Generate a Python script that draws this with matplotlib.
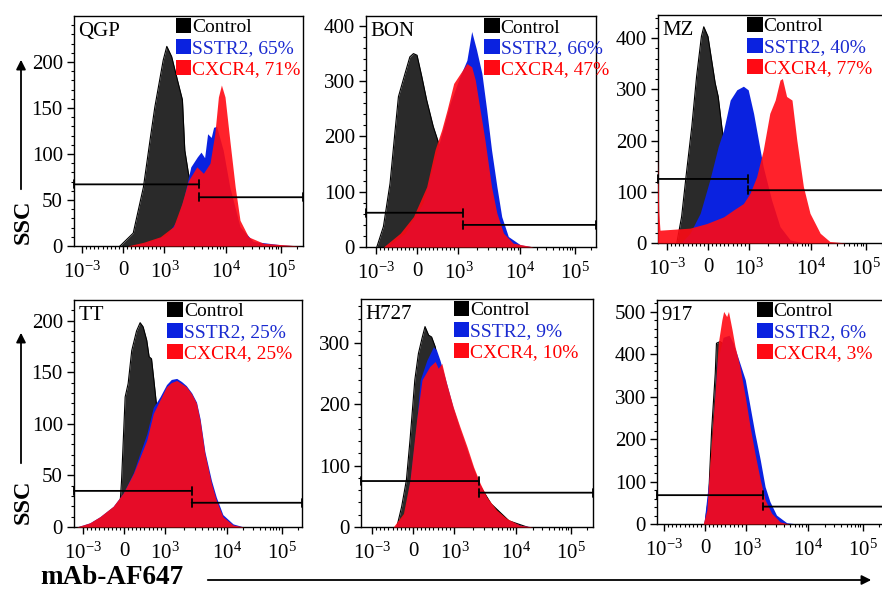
import numpy as np
import matplotlib
matplotlib.use("Agg")
import matplotlib.pyplot as plt
from matplotlib.patches import Patch, FancyArrowPatch

plt.rcParams["font.family"] = "Liberation Serif"
plt.rcParams["mathtext.fontset"] = "custom"
plt.rcParams["mathtext.rm"] = "Liberation Serif"

# ---- data (x in display units, y = counts) ----
names = ["QGP", "BON", "MZ", "TT", "H727", "917"]
sstr2_pct = [65, 66, 40, 25, 9, 6]
cxcr4_pct = [71, 47, 77, 25, 10, 3]

xtick_pos = [-0.69, 0, 0.69, 1.72, 2.63]
xtick_lab = [r"$\mathregular{10^{-3}}$", "0", r"$\mathregular{10^{3}}$",
             r"$\mathregular{10^{4}}$", r"$\mathregular{10^{5}}$"]

qgp_ctrl_x = [-0.05, 0.17, 0.34, 0.45, 0.53, 0.67, 0.73, 0.81, 0.92, 0.99, 1.03, 1.09, 1.23, 1.39, 1.73, 2.06]
qgp_ctrl_y = [0, 14, 64, 115, 151, 202, 217, 206, 177, 159, 104, 79, 43, 21, 6, 0]
qgp_sstr2_x = [0.17, 0.45, 0.73, 0.9, 1.02, 1.13, 1.24, 1.3, 1.36, 1.41, 1.47, 1.51, 1.56, 1.67, 1.78, 1.95, 2.17, 2.67, 2.98]
qgp_sstr2_y = [0, 5, 12, 28, 54, 86, 97, 102, 96, 122, 118, 129, 130, 104, 64, 21, 5, 1, 0]
qgp_cxcr4_x = [0.07, 0.34, 0.62, 0.84, 0.98, 1.09, 1.23, 1.34, 1.45, 1.53, 1.59, 1.64, 1.7, 1.78, 1.87, 1.95, 2.09, 2.34, 2.95]
qgp_cxcr4_y = [0, 4, 10, 21, 46, 71, 86, 79, 90, 122, 162, 175, 162, 115, 64, 28, 10, 3, 0]

bon_ctrl_x = [-0.67, -0.56, -0.45, -0.37, -0.31, -0.2, -0.12, -0.06, 0.0, 0.08, 0.16, 0.27, 0.36, 0.55, 0.77, 0.99, 1.27, 1.5]
bon_ctrl_y = [0, 37, 115, 206, 272, 314, 344, 350, 347, 308, 266, 218, 188, 115, 67, 31, 7, 0]
bon_sstr2_x = [-0.5, -0.2, 0.1, 0.3, 0.55, 0.72, 0.83, 0.91, 0.99, 1.08, 1.16, 1.24, 1.33, 1.41, 1.52, 1.72, 1.94]
bon_sstr2_y = [0, 25, 80, 160, 260, 310, 338, 390, 357, 314, 248, 176, 109, 55, 19, 4, 0]
bon_cxcr4_x = [-0.56, -0.28, -0.06, 0.16, 0.3, 0.41, 0.5, 0.61, 0.72, 0.83, 0.91, 0.97, 1.05, 1.13, 1.24, 1.33, 1.44, 1.6, 1.94]
bon_cxcr4_y = [0, 25, 55, 109, 176, 212, 248, 296, 314, 332, 326, 302, 248, 194, 109, 61, 25, 7, 0]

mz_ctrl_x = [-0.52, -0.44, -0.36, -0.27, -0.19, -0.11, -0.07, 0.0, 0.12, 0.17, 0.23, 0.37, 0.53, 0.81, 1.14, 1.3]
mz_ctrl_y = [0, 51, 136, 227, 325, 403, 422, 403, 312, 286, 227, 116, 51, 19, 3, 0]
mz_sstr2_x = [-0.45, -0.3, -0.13, 0.03, 0.17, 0.26, 0.37, 0.48, 0.59, 0.67, 0.76, 0.84, 0.92, 1.06, 1.2, 1.37, 1.6]
mz_sstr2_y = [0, 19, 58, 123, 188, 220, 279, 299, 306, 299, 253, 201, 149, 84, 32, 6, 0]
mz_cxcr4_x = [-0.84, -0.82, -0.8, -0.3, -0.02, 0.26, 0.42, 0.59, 0.7, 0.81, 0.92, 1.03, 1.12, 1.2, 1.24, 1.31, 1.4, 1.48, 1.59, 1.7, 1.87, 2.03, 2.3]
mz_cxcr4_y = [168, 60, 25, 29, 38, 51, 64, 77, 97, 129, 181, 253, 279, 318, 321, 286, 279, 201, 110, 58, 19, 3, 0]

tt_ctrl_x = [-0.09, -0.04, 0.02, 0.07, 0.13, 0.21, 0.27, 0.32, 0.38, 0.42, 0.46, 0.5, 0.54, 0.66, 0.82, 1.04, 1.27, 1.45]
tt_ctrl_y = [0, 45, 126, 139, 171, 190, 198, 194, 181, 165, 163, 142, 120, 78, 45, 20, 5, 0]
tt_sstr2_x = [-0.79, -0.57, -0.4, -0.18, -0.01, 0.16, 0.27, 0.38, 0.49, 0.6, 0.71, 0.79, 0.88, 0.96, 1.04, 1.13, 1.21, 1.27, 1.35, 1.46, 1.54, 1.65, 1.82, 2.0]
tt_sstr2_y = [0, 4, 10, 20, 33, 53, 72, 90, 116, 126, 138, 143, 144, 141, 137, 130, 121, 105, 73, 45, 29, 12, 3, 0]
tt_cxcr4_x = [-0.79, -0.57, -0.4, -0.18, -0.01, 0.16, 0.27, 0.38, 0.49, 0.6, 0.71, 0.79, 0.88, 0.96, 1.04, 1.13, 1.21, 1.27, 1.35, 1.46, 1.54, 1.65, 1.82, 2.0]
tt_cxcr4_y = [0, 4, 10, 20, 33, 52, 68, 84, 110, 123, 136, 140, 142, 139, 136, 129, 120, 103, 71, 42, 26, 10, 2, 0]

h727_ctrl_x = [-0.27, -0.19, -0.11, -0.05, 0.03, 0.09, 0.15, 0.2, 0.26, 0.31, 0.37, 0.5, 0.7, 0.9, 1.1, 1.3, 1.6, 1.9]
h727_ctrl_y = [0, 33, 77, 142, 240, 283, 308, 327, 313, 310, 294, 230, 175, 120, 70, 38, 10, 0]
h727_sstr2_x = [-0.3, -0.15, -0.05, 0.06, 0.12, 0.23, 0.34, 0.39, 0.45, 0.56, 0.67, 0.78, 0.9, 1.01, 1.12, 1.23, 1.39, 1.56, 1.78, 2.0]
h727_sstr2_y = [0, 20, 75, 170, 240, 272, 294, 289, 272, 234, 194, 160, 126, 94, 68, 46, 26, 12, 3, 0]
h727_cxcr4_x = [-0.33, -0.16, -0.05, 0.06, 0.15, 0.28, 0.37, 0.42, 0.48, 0.56, 0.67, 0.78, 0.9, 1.01, 1.12, 1.23, 1.39, 1.56, 1.78, 2.0]
h727_cxcr4_y = [0, 22, 77, 175, 240, 262, 270, 259, 267, 234, 196, 164, 131, 98, 71, 49, 28, 14, 3, 0]

n917_ctrl_x = [0.0, 0.06, 0.11, 0.17, 0.19, 0.25, 0.35, 0.5, 0.7, 0.9, 1.1, 1.3]
n917_ctrl_y = [0, 64, 222, 355, 426, 430, 420, 380, 270, 110, 20, 0]
n917_sstr2_x = [-0.02, 0.1, 0.2, 0.3, 0.4, 0.47, 0.58, 0.67, 0.75, 0.83, 0.92, 1.0, 1.08, 1.19, 1.36, 1.55]
n917_sstr2_y = [0, 150, 380, 440, 445, 426, 379, 340, 277, 214, 151, 88, 53, 21, 3, 0]
n917_cxcr4_x = [-0.03, 0.03, 0.08, 0.17, 0.22, 0.28, 0.31, 0.36, 0.39, 0.45, 0.5, 0.58, 0.67, 0.75, 0.83, 0.92, 1.0, 1.11, 1.25, 1.4]
n917_cxcr4_y = [0, 33, 143, 316, 426, 481, 501, 489, 501, 458, 418, 371, 300, 229, 167, 104, 57, 25, 5, 0]

# gates: left bar height, split position, right bar height
gate_left_y = [67, 62, 125, 35, 75, 68]
gate_split_x = [1.27, 0.76, 0.66, 1.13, 1.1, 0.97]
gate_right_y = [53, 40, 103, 23.5, 56, 41]

curves = [
    (qgp_ctrl_x, qgp_ctrl_y, qgp_sstr2_x, qgp_sstr2_y, qgp_cxcr4_x, qgp_cxcr4_y),
    (bon_ctrl_x, bon_ctrl_y, bon_sstr2_x, bon_sstr2_y, bon_cxcr4_x, bon_cxcr4_y),
    (mz_ctrl_x, mz_ctrl_y, mz_sstr2_x, mz_sstr2_y, mz_cxcr4_x, mz_cxcr4_y),
    (tt_ctrl_x, tt_ctrl_y, tt_sstr2_x, tt_sstr2_y, tt_cxcr4_x, tt_cxcr4_y),
    (h727_ctrl_x, h727_ctrl_y, h727_sstr2_x, h727_sstr2_y, h727_cxcr4_x, h727_cxcr4_y),
    (n917_ctrl_x, n917_ctrl_y, n917_sstr2_x, n917_sstr2_y, n917_cxcr4_x, n917_cxcr4_y),
]

# ---- layout (pixels) ----
W, H = 882, 590
boxes = [(74, 16, 303, 246), (366, 16, 596, 247), (658, 15, 888, 243),
         (74, 300, 302, 527), (361, 299, 593, 527), (657, 300, 887, 524)]
xlims = [(-0.817, 3.0), (-0.85, 2.98), (-0.833, 3.0),
         (-0.833, 2.97), (-0.867, 3.0), (-0.8, 3.03)]
ytops = [250, 418, 445, 220, 372, 528]
ysteps = [50, 100, 100, 50, 100, 100]
ymaxtick = [200, 400, 400, 200, 300, 500]
legend_x = [0.445, 0.513, 0.387, 0.41, 0.40, 0.435]

c_black = "#2a2a2a"
c_blue = "#0a22e0"
c_red = "#ff0a14"

# minor ticks on the x axis
minor = list(np.linspace(-0.62, -0.06, 9)) + list(np.linspace(0.06, 0.62, 9))
for a, b in [(0.69, 1.72), (1.72, 2.63), (2.63, 3.54)]:
    minor += [a + np.log10(k) * (b - a) for k in range(2, 10)]

fig = plt.figure(figsize=(W / 100, H / 100), dpi=100)

for i, name in enumerate(names):
    l, t, r, b = boxes[i]
    ax = fig.add_axes([l / W, 1 - b / H, (r - l) / W, (b - t) / H])
    cx, cy, sx, sy, rx, ry = curves[i]
    ax.fill_between(cx, cy, 0, color=c_black, lw=0, zorder=1)
    ax.plot(cx, cy, color="black", lw=0.8, zorder=1)
    ax.fill_between(sx, sy, 0, color=c_blue, lw=0, zorder=2)
    ax.fill_between(rx, ry, 0, color=c_red, alpha=0.9, lw=0, zorder=3)

    x0, x1 = xlims[i]
    ax.set_xlim(x0, x1)
    ax.set_ylim(0, ytops[i])
    gs = "|-|,widthA=0.28,widthB=0.28"
    ax.annotate("", xy=(gate_split_x[i], gate_left_y[i]), xytext=(x0, gate_left_y[i]),
                arrowprops=dict(arrowstyle=gs, lw=1.3, color="black", shrinkA=0, shrinkB=0),
                zorder=5)
    ax.annotate("", xy=(x1, gate_right_y[i]), xytext=(gate_split_x[i], gate_right_y[i]),
                arrowprops=dict(arrowstyle=gs, lw=1.3, color="black", shrinkA=0, shrinkB=0),
                zorder=5)

    ax.set_xticks(xtick_pos)
    ax.set_xticklabels(xtick_lab)
    ax.set_xticks([m for m in minor if x0 < m < x1], minor=True)
    ax.set_yticks(np.arange(0, ymaxtick[i] + 1, ysteps[i]))
    ax.set_yticks(np.arange(0, ytops[i], ysteps[i] / 5), minor=True)
    ax.tick_params(which="major", direction="out", length=5, width=1, labelsize=15, pad=3)
    ax.tick_params(which="minor", direction="out", length=2.5, width=0.8)
    ax.tick_params(axis="x", which="major", pad=6)
    for s in ax.spines.values():
        s.set_linewidth(1.0)

    ax.text(0.02, 0.975, name, transform=ax.transAxes, ha="left", va="top", fontsize=15)

    handles = [Patch(facecolor="black", edgecolor="none"),
               Patch(facecolor=c_blue, edgecolor="none"),
               Patch(facecolor=c_red, edgecolor="none")]
    labels = ["Control", "SSTR2, %d%%" % sstr2_pct[i], "CXCR4, %d%%" % cxcr4_pct[i]]
    ax.legend(handles, labels, loc="upper left", bbox_to_anchor=(legend_x[i], 0.99),
              frameon=False, fontsize=14, handlelength=0.8, handleheight=0.8,
              handletextpad=0.05, labelspacing=0.14, borderpad=0, borderaxespad=0,
              labelcolor=["black", "#1a2ad0", "#ff0000"])

# axis titles with arrows
for tip, base, label_y in [(57, 192, 222), (330, 466, 502)]:
    fig.add_artist(FancyArrowPatch((21 / W, 1 - base / H), (21 / W, 1 - tip / H),
                                   transform=fig.transFigure, arrowstyle="-|>",
                                   mutation_scale=14, lw=1.3, color="black"))
    fig.text(23 / W, 1 - label_y / H, "SSC", rotation=90, ha="center", va="center",
             fontsize=17.5, fontweight="bold")

fig.text(40 / W, 1 - 577 / H, "mAb-AF647", ha="left", va="center", fontsize=19.5,
         fontweight="bold")
fig.add_artist(FancyArrowPatch((205 / W, 1 - 580 / H), (874 / W, 1 - 580 / H),
                               transform=fig.transFigure, arrowstyle="-|>",
                               mutation_scale=14, lw=1.3, color="black"))

fig.savefig("out.png", dpi=100)
